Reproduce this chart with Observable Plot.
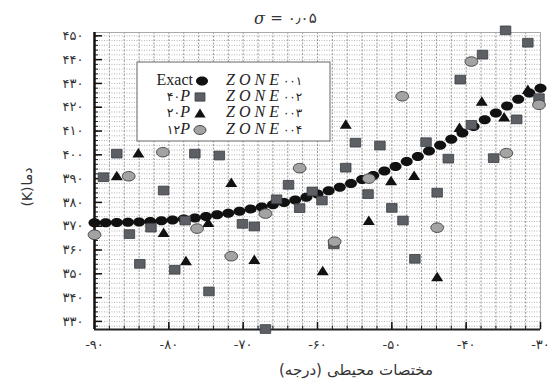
<!DOCTYPE html>
<html><head><meta charset="utf-8">
<script src="https://cdn.jsdelivr.net/npm/d3@7"></script>
<script src="https://cdn.jsdelivr.net/npm/@observablehq/plot@0.6"></script>
<style>body{margin:0;background:#fff} svg{display:block}</style>
</head><body><div id="chart"></div>
<script>
// ---- data ----
const exactX = [-90,-88.5,-87,-85.5,-84,-82.5,-81,-79.5,-78,-76.5,-75,-73.5,-72,-70.5,-69,-67.5,-66,-64.5,-63,-61.5,-60,-58.5,-57,-55.5,-54,-52.5,-51,-49.5,-48,-46.5,-45,-43.5,-42,-40.5,-39,-37.5,-36,-34.5,-33,-31.5,-30];
const exactY = [371.5,371.5,371.6,371.7,371.8,372.0,372.3,372.6,373.0,373.5,374.1,374.8,375.5,376.3,377.2,378.1,379.0,380.0,381.0,382.2,383.5,384.9,386.4,388.0,389.6,391.3,393.2,395.1,397.2,399.3,401.6,404.0,406.5,409.2,411.9,414.7,417.6,420.5,423.4,426.0,428.0];

const p40X = [-88.8,-87.0,-85.3,-83.9,-82.4,-80.7,-79.2,-77.8,-76.5,-74.6,-73.2,-70.1,-68.5,-67.0,-65.5,-63.9,-62.4,-60.7,-59.4,-57.8,-56.2,-54.9,-53.2,-51.6,-50.0,-48.5,-46.9,-45.4,-43.9,-42.4,-40.8,-39.3,-37.8,-36.3,-34.7,-33.2,-31.7,-30.2];
const p40Y = [390.6,400.5,366.7,354.2,369.4,385.0,351.7,372.4,400.5,342.6,399.7,371.0,369.9,326.8,381.3,387.4,377.6,384.6,380.8,362.4,394.6,405.1,383.5,403.9,377.7,372.4,356.3,405.3,384.1,398.4,431.6,412.6,442.1,398.6,452.3,414.9,447.1,423.8];

const p20X = [-87.0,-84.1,-80.7,-77.7,-74.7,-71.6,-68.5,-59.3,-56.2,-53.1,-50.1,-47.0,-43.9,-40.9,-37.9,-34.9,-31.7];
const p20Y = [391.3,400.9,367.5,355.6,371.7,388.5,356.1,351.4,413.0,372.5,389.2,391.4,348.9,411.6,422.6,416.0,427.6];

const p12X = [-90.0,-85.4,-80.8,-76.2,-71.6,-67.0,-62.4,-57.7,-53.1,-48.6,-43.9,-39.3,-34.6,-30.2];
const p12Y = [366.4,391.0,401.1,369.0,357.4,375.3,394.4,363.5,390.0,424.6,369.4,439.2,400.7,421.0];

const xTicks = [-90,-80,-70,-60,-50,-40,-30];
const yTicks = [330,340,350,360,370,380,390,400,410,420,430,440,450];
const legendLeft = ["Exact", "۴۰", "۲۰", "۱۲"];
const legendRight = ["۰۰۱", "۰۰۲", "۰۰۳", "۰۰۴"];
const titleText = "= ۰٫۰۵";
const xLabelWords = ["مختصات", "محیطی", "(درجه)"];   // reading order (right to left on screen)
const yLabelParts = ["(K)", "دما"];                   // shown bottom to top

// ---- helpers ----
const fa = d => String(d).replace(/\d/g, c => "۰۱۲۳۴۵۶۷۸۹"[+c]);
const K = 0.5523;
const ellipse = {draw(ctx, size) { const s = Math.sqrt(size/Math.PI), a = 1.2*s, b = 0.9*s;
  ctx.moveTo(a,0);
  ctx.bezierCurveTo(a, K*b, K*a, b, 0, b);
  ctx.bezierCurveTo(-K*a, b, -a, K*b, -a, 0);
  ctx.bezierCurveTo(-a, -K*b, -K*a, -b, 0, -b);
  ctx.bezierCurveTo(K*a, -b, a, -K*b, a, 0);
  ctx.closePath(); }};
const rectSym = {draw(ctx, size) { const s = Math.sqrt(size/Math.PI), w = 2.1*s, h = 1.75*s; ctx.rect(-w/2,-h/2,w,h); }};
const triSym = {draw(ctx, size) { const s = Math.sqrt(size/Math.PI), w = 2.4*s, h = 1.9*s;
  ctx.moveTo(0,-h/2); ctx.lineTo(w/2,h/2); ctx.lineTo(-w/2,h/2); ctx.closePath(); }};

const exact = exactX.map((x,i)=>({x, y: exactY[i]}));
const p40 = p40X.map((x,i)=>({x, y: p40Y[i]}));
const p20 = p20X.map((x,i)=>({x, y: p20Y[i]}));
const p12 = p12X.map((x,i)=>({x, y: p12Y[i]}));

const faFont = "DejaVu Sans, sans-serif";

const svg = Plot.plot({
  width: 553, height: 387,
  marginTop: 32, marginBottom: 58, marginLeft: 94, marginRight: 13,
  x: {domain: [-90, -30]},
  y: {domain: [326.6, 451.4]},
  style: {background: "#fff"},
  marks: [
    Plot.gridY(d3.range(328, 452, 2), {stroke: "#999", strokeOpacity: 0.75, strokeDasharray: "1,1.5"}),
    Plot.gridX(d3.range(-90, -29, 2), {stroke: "#888", strokeOpacity: 0.85, strokeDasharray: "2,1.5"}),
    Plot.frame({stroke: "#aaa"}),
    Plot.axisY({ticks: d3.range(328, 452, 2), tickSize: -4, tickFormat: () => "", label: null, stroke: "#222"}),
    Plot.axisY({ticks: yTicks, tickSize: -8, tickPadding: 19, tickFormat: fa, label: null, fontSize: 13, fontFamily: faFont, fill: "#333", stroke: "#111", strokeWidth: 1.5}),
    Plot.axisX({ticks: d3.range(-90, -29, 2), tickSize: -3.5, tickFormat: () => "", label: null, stroke: "#222"}),
    Plot.axisX({ticks: xTicks, tickSize: -7, tickPadding: 17, tickFormat: fa, label: null, fontSize: 13, fontFamily: faFont, fill: "#333", stroke: "#111", strokeWidth: 1.5}),
    Plot.ruleX([-90], {stroke: "#111", strokeWidth: 2.5}),
    Plot.ruleY([326.6], {stroke: "#222", strokeWidth: 2}),
    Plot.dot(exact, {x: "x", y: "y", r: 5, symbol: ellipse, fill: "#111", stroke: "none"}),
    Plot.dot(p40, {x: "x", y: "y", r: 5, symbol: rectSym, fill: "#5c5f64", stroke: "#3a3d44", strokeWidth: 0.8}),
    Plot.dot(p20, {x: "x", y: "y", r: 5, symbol: triSym, fill: "#111", stroke: "none"}),
    Plot.dot(p12, {x: "x", y: "y", r: 5.3, symbol: ellipse, fill: "#a3a3a3", stroke: "#3a3a3a", strokeWidth: 0.9}),
    Plot.text(["σ"], {text: d => d, frameAnchor: "top", dx: -58, dy: -20, fontSize: 16, fontStyle: "italic", fontFamily: "DejaVu Serif, serif", fill: "#333"}),
    Plot.text([titleText], {text: d => d, frameAnchor: "top", dx: -24, dy: -20, fontSize: 15, fontFamily: faFont, fill: "#333"})
  ]
});
document.getElementById("chart").append(svg);
const root = d3.select(svg);

// ---- axis titles laid out word by word ----
{
  const g = root.append("g").attr("fill", "#333").style("font-family", faFont).style("font-size", "15px");
  const words = xLabelWords.slice().reverse(); // right-to-left reading → left-to-right placement
  const texts = words.map(w => g.append("text").attr("text-anchor", "start").attr("y", 370).attr("dy", "0.35em").text(w));
  const widths = texts.map(t => t.node().getComputedTextLength());
  const gap = 5, total = d3.sum(widths) + gap * (widths.length - 1);
  let x = 356 - total / 2;
  texts.forEach((t, i) => { t.attr("x", x); x += widths[i] + gap; });
}
{
  const g = root.append("g").attr("fill", "#333").style("font-family", faFont).style("font-size", "14px")
    .attr("transform", "translate(27,187) rotate(-90)");
  const texts = yLabelParts.map(w => g.append("text").attr("text-anchor", "start").attr("y", 0).attr("dy", "0.35em").text(w));
  const widths = texts.map(t => t.node().getComputedTextLength());
  const gap = 1, total = d3.sum(widths) + gap;
  let x = -total / 2;
  texts.forEach((t, i) => { t.attr("x", x); x += widths[i] + gap; });
}

// ---- in-frame legend ----
const lg = root.append("g");
lg.append("rect").attr("x", 137).attr("y", 62).attr("width", 193).attr("height", 79)
  .attr("fill", "#fff").attr("stroke", "#666").attr("stroke-width", 1);
const rowY = [80, 96, 112, 129];
const syms = [
  {sym: ellipse, size: Math.PI*25, fill: "#111", stroke: "none"},
  {sym: rectSym, size: Math.PI*22, fill: "#5c5f64", stroke: "#3a3d44"},
  {sym: triSym, size: Math.PI*22, fill: "#111", stroke: "none"},
  {sym: ellipse, size: Math.PI*25, fill: "#a3a3a3", stroke: "#3a3a3a"}
];
legendLeft.forEach((t, i) => {
  const tx = lg.append("text").attr("x", i === 0 ? 193 : 190).attr("y", rowY[i]).attr("dy", "0.33em")
    .attr("text-anchor", "end").attr("fill", "#222")
    .style("font-family", "Liberation Serif, DejaVu Serif, serif").style("font-size", "16px");
  if (i === 0) tx.text(t);
  else {
    tx.append("tspan").style("font-family", faFont).style("font-size", "12.5px").text(t);
    tx.append("tspan").style("font-style", "italic").text("P");
  }
  lg.append("path").attr("transform", `translate(${i === 0 ? 202 : 200},${rowY[i] + 1})`)
    .attr("d", d3.symbol(syms[i].sym, syms[i].size)())
    .attr("fill", syms[i].fill).attr("stroke", syms[i].stroke).attr("stroke-width", 0.9);
  const rz = lg.append("text").attr("x", 226).attr("y", rowY[i]).attr("dy", "0.33em")
    .attr("text-anchor", "start").attr("fill", "#222")
    .style("font-family", "Liberation Serif, DejaVu Serif, serif").style("font-size", "16px");
  rz.append("tspan").style("font-style", "italic").style("letter-spacing", "4px").text("ZONE");
  rz.append("tspan").style("font-family", faFont).style("font-size", "12px").text(legendRight[i]);
});
</script>
</body></html>
